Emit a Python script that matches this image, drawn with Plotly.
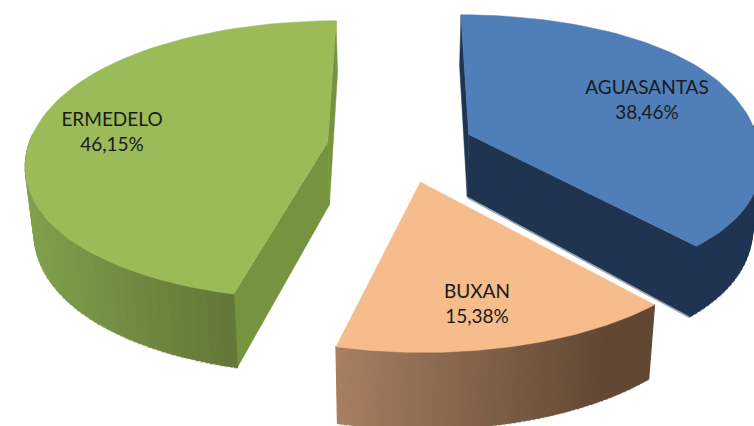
import numpy as np
import plotly.graph_objects as go

# ---- data ----
categories = ["AGUASANTAS", "BUXAN", "ERMEDELO"]
values = [38.46, 15.38, 46.15]

# ---- style / projection ----
top_colors = ["#4F7EB8", "#F6BC8B", "#9BBB59"]
wall_colors = ["#1E3450", "#6B4D38", "#76943F"]
show_radial = [True, False, True]
grad_left = [(30, 52, 80), (168, 128, 98), (128, 160, 76)]
grad_right = [(30, 52, 80), (97, 72, 52), (100, 120, 58)]
grad_x = [(460, 760), (336, 610), (30, 233)]
fringe = ["#9AA8B8", "#D9CDBF", "#CBD9AE"]
explode = [0.24, 0.26, 0.24]
side_trim = [0.052, 0.045, 0.025]
label_xy = [(647, 102), (477, 306), (112, 134)]
CX, CY, R, K, A, SHR, H0, H1 = 400.6, 146.0, 307.0, 138.0, 0.13, 0.023, 63.0, 11.0


def top(U, V):
    d = 1 - A * V
    return CX + R * U / d, CY + K * V / d


def bottom(U, V):
    x, y = top(U, V)
    return CX + (x - CX) * (1 - SHR), y + H0 + H1 * V


def poly(fig, xs, ys, color, width=1.2):
    fig.add_trace(go.Scatter(x=xs, y=ys, mode="lines", fill="toself", fillcolor=color,
                             line=dict(color=color, width=width), hoverinfo="skip", showlegend=False))


fig = go.Figure()
total = sum(values)
starts = np.cumsum([0] + values[:-1]) / total * 2 * np.pi
spans = np.array(values) / total * 2 * np.pi

for i, (name, val) in enumerate(zip(categories, values)):
    t0, t1 = starts[i], starts[i] + spans[i]
    mid = (t0 + t1) / 2
    ox, oy = explode[i] * np.sin(mid), -explode[i] * np.cos(mid)
    th = np.linspace(t0, t1, 70)
    s = np.sin(th)
    U = ox + s * (1 - side_trim[i] * s ** 4)
    V = oy - np.cos(th)
    tx, ty = top(U, V)
    bx, by = bottom(U, V)
    ax, ay = top(np.array([ox]), np.array([oy]))
    abx, aby = bottom(np.array([ox]), np.array([oy]))

    # pale fringe on the lower rim, under the walls
    mask = -np.cos(th) > 0.15
    fig.add_trace(go.Scatter(x=bx[mask], y=by[mask] + 1.0, mode="lines", hoverinfo="skip", showlegend=False,
                             line=dict(color=fringe[i], width=1.2, dash="3px,2px")))
    if i == 0:
        fig.add_trace(go.Scatter(x=[abx[0], bx[-1]], y=[aby[0] + 1.2, by[-1] + 1.2], mode="lines", hoverinfo="skip",
                                 showlegend=False, line=dict(color=fringe[i], width=1.5)))

    # radial walls
    if show_radial[i]:
        poly(fig, [ax[0], tx[0], bx[0], abx[0], ax[0]], [ay[0], ty[0], by[0], aby[0], ay[0]], wall_colors[i], 0.5)
        poly(fig, [ax[0], tx[-1], bx[-1], abx[0], ax[0]], [ay[0], ty[-1], by[-1], aby[0], ay[0]], wall_colors[i], 0.5)

    # curved wall with a horizontal gradient (front-facing part only)
    for j in range(len(th) - 1):
        if -np.cos(th[j]) < -0.03 and -np.cos(th[j + 1]) < -0.03:
            continue
        f = np.clip((tx[j] - grad_x[i][0]) / (grad_x[i][1] - grad_x[i][0]), 0, 1)
        c = [int(a + (b - a) * f) for a, b in zip(grad_left[i], grad_right[i])]
        col = f"rgb({c[0]},{c[1]},{c[2]})"
        poly(fig, [tx[j], tx[j + 1], bx[j + 1], bx[j], tx[j]], [ty[j], ty[j + 1], by[j + 1], by[j], ty[j]], col)

    # top face
    poly(fig, np.r_[ax, tx, ax], np.r_[ay, ty, ay], top_colors[i], 0.5)

labels = [f"{c}<br>{v:.2f}%".replace(".", ",") for c, v in zip(categories, values)]
fig.add_trace(go.Scatter(x=[p[0] for p in label_xy], y=[p[1] for p in label_xy], mode="text", text=labels,
                         textposition="middle center", hoverinfo="skip", showlegend=False,
                         textfont=dict(family="Lato", size=19, color="#1A1A1A")))

fig.update_layout(width=754, height=426, margin=dict(l=0, r=0, t=0, b=0), showlegend=False,
                  paper_bgcolor="white", plot_bgcolor="white",
                  xaxis=dict(range=[0, 754], visible=False, fixedrange=True),
                  yaxis=dict(range=[426, 0], visible=False, fixedrange=True))
fig.write_html("out.html", config={"displayModeBar": False},
               post_script="document.body.style.margin='0';document.documentElement.style.overflow='hidden';")
